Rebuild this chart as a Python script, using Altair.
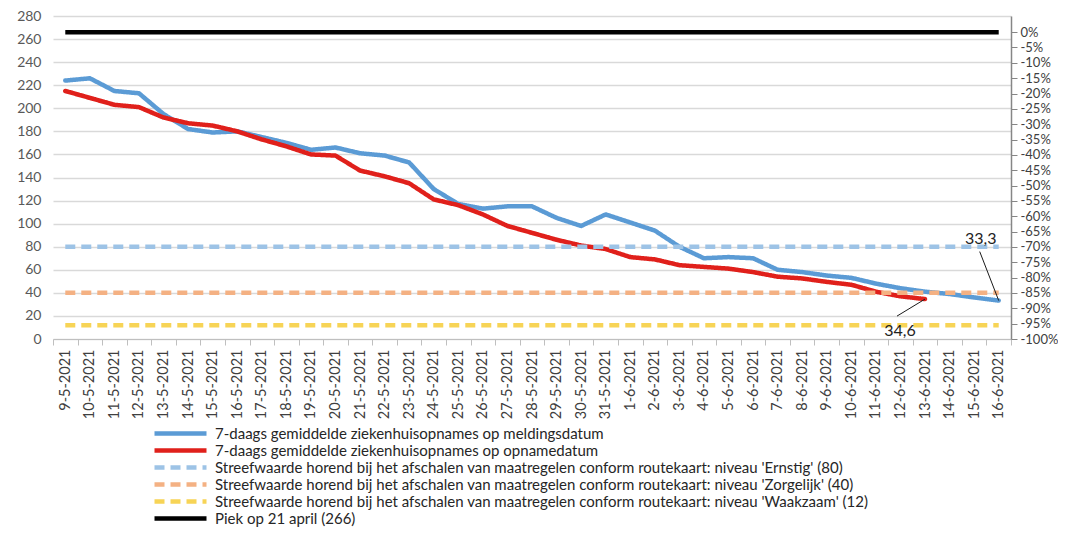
import json
import altair as alt
import pandas as pd

# ---------------- data ----------------
dates = ["9-5-2021", "10-5-2021", "11-5-2021", "12-5-2021", "13-5-2021", "14-5-2021",
         "15-5-2021", "16-5-2021", "17-5-2021", "18-5-2021", "19-5-2021", "20-5-2021",
         "21-5-2021", "22-5-2021", "23-5-2021", "24-5-2021", "25-5-2021", "26-5-2021",
         "27-5-2021", "28-5-2021", "29-5-2021", "30-5-2021", "31-5-2021", "1-6-2021",
         "2-6-2021", "3-6-2021", "4-6-2021", "5-6-2021", "6-6-2021", "7-6-2021",
         "8-6-2021", "9-6-2021", "10-6-2021", "11-6-2021", "12-6-2021", "13-6-2021",
         "14-6-2021", "15-6-2021", "16-6-2021"]

meldingsdatum = [224, 226, 215, 213, 195, 182, 179, 180, 175, 170, 164, 166, 161, 159,
                 153, 130, 117, 113, 115, 115, 105, 98, 108, 101, 94, 80, 70, 71, 70,
                 60, 58, 55, 53, 48, 44, 41, 39, 36, 33.3]

opnamedatum = [215, 209, 203, 201, 192, 187, 185, 180, 173, 167, 160, 159, 146, 141,
               135, 121, 116, 108, 98, 92, 86, 81, 78, 71, 69, 64, 62.5, 61, 58, 54,
               52.5, 49.5, 47, 41, 37, 34.6]

S_MELD = "7-daags gemiddelde ziekenhuisopnames op meldingsdatum"
S_OPN = "7-daags gemiddelde ziekenhuisopnames op opnamedatum"
S_ERN = "Streefwaarde horend bij het afschalen van maatregelen conform routekaart: niveau 'Ernstig' (80)"
S_ZOR = "Streefwaarde horend bij het afschalen van maatregelen conform routekaart: niveau 'Zorgelijk' (40)"
S_WAK = "Streefwaarde horend bij het afschalen van maatregelen conform routekaart: niveau 'Waakzaam' (12)"
S_PIEK = "Piek op 21 april (266)"

threshold_names = [S_ERN, S_ZOR, S_WAK, S_PIEK]
threshold_values = [80, 40, 12, 266]
peak_value = 266

series_order = [S_MELD, S_OPN, S_ERN, S_ZOR, S_WAK, S_PIEK]
series_colors = ["#5b9bd5", "#e0201b", "#9dc3e6", "#f4b183", "#f7d456", "#000000"]
series_dash = [[1, 0], [1, 0], [10, 6], [10, 6], [10, 6], [1, 0]]
series_width = [4.5, 4.5, 3.2, 3, 3.8, 3]

left_ticks = list(range(0, 281, 20))
right_ticks = [round(-1 + 0.05 * k, 2) for k in range(21)]

# ---------------- tables ----------------
rows = []
for i, v in enumerate(meldingsdatum):
    rows.append({"idx": i, "value": v, "series": S_MELD})
for i, v in enumerate(opnamedatum):
    rows.append({"idx": i, "value": v, "series": S_OPN})
lines_df = pd.DataFrame(rows)

trows = []
for name, val in zip(threshold_names, threshold_values):
    for i in range(len(dates)):
        trows.append({"idx": i, "value": val, "series": name})
thr_df = pd.DataFrame(trows)
peak_df = thr_df[thr_df["series"] == S_PIEK].copy()
peak_df["pct"] = peak_df["value"] / peak_value - 1

ann_meld = pd.DataFrame([{"idx": len(meldingsdatum) - 1, "value": meldingsdatum[-1],
                          "label": str(meldingsdatum[-1]).replace(".", ",")}])
ann_opn = pd.DataFrame([{"idx": len(opnamedatum) - 1, "value": opnamedatum[-1],
                         "label": str(opnamedatum[-1]).replace(".", ",")}])

# ---------------- chart ----------------
W = 958
H = 323
FONT = "Lato"
half = W / len(dates) / 2
x_values = [k - 0.5 for k in range(len(dates) + 1)]

x_axis = alt.Axis(
    values=x_values,
    tickCount=len(x_values) + 10,
    labelExpr=json.dumps(dates) + "[round(datum.value + 0.5)] || ''",
    labelOffset=half,
    labelAngle=-90,
    labelOverlap=False,
    labelFontSize=14.5,
    labelColor="#404040",
    labelPadding=4,
    grid=False,
    ticks=True,
    tickSize=6,
    tickColor="#bfbfbf",
    domain=True,
    domainColor="#bfbfbf",
    title=None,
)
x_enc = alt.X("idx:Q", scale=alt.Scale(domain=[-0.5, len(dates) - 0.5], nice=False, zero=False),
              axis=x_axis)

y_axis = alt.Axis(values=left_ticks, tickCount=len(left_ticks) + 10, labelOverlap=False,
                  grid=True, gridColor="#d9d9d9", gridWidth=1.5,
                  domain=False, ticks=False, labelFontSize=14, labelColor="#595959",
                  labelPadding=12, title=None)
y_enc = alt.Y("value:Q", scale=alt.Scale(domain=[0, 280], nice=False), axis=y_axis)

color_enc = alt.Color("series:N", scale=alt.Scale(domain=series_order, range=series_colors),
                      title=None)
dash_enc = alt.StrokeDash("series:N", scale=alt.Scale(domain=series_order, range=series_dash),
                          title=None)
width_enc = alt.StrokeWidth("series:N", scale=alt.Scale(domain=series_order, range=series_width),
                            title=None)

data_lines = alt.Chart(lines_df).mark_line(strokeCap="round", strokeJoin="round").encode(
    x=x_enc, y=y_enc, color=color_enc, strokeDash=dash_enc, strokeWidth=width_enc,
    detail="series:N",
)
thr_lines = alt.Chart(thr_df).mark_line(strokeCap="butt").encode(
    x=x_enc, y=y_enc, color=color_enc, strokeDash=dash_enc, strokeWidth=width_enc,
    detail="series:N",
)

ann1_rule = alt.Chart(ann_meld).mark_rule(color="#1a1a1a", strokeWidth=1,
                                          x2Offset=-19, y2Offset=-49).encode(
    x="idx:Q", y="value:Q", x2=alt.X2("idx:Q"), y2=alt.Y2("value:Q"))
ann1_text = alt.Chart(ann_meld).mark_text(dx=-18, dy=-62, fontSize=16, font=FONT,
                                          color="#222222").encode(
    x="idx:Q", y="value:Q", text="label:N")
ann2_rule = alt.Chart(ann_opn).mark_rule(color="#1a1a1a", strokeWidth=1,
                                         x2Offset=-28, y2Offset=17).encode(
    x="idx:Q", y="value:Q", x2=alt.X2("idx:Q"), y2=alt.Y2("value:Q"))
ann2_text = alt.Chart(ann_opn).mark_text(dx=-25, dy=32, fontSize=16, font=FONT,
                                         color="#222222").encode(
    x="idx:Q", y="value:Q", text="label:N")

left_layer = alt.layer(data_lines, thr_lines, ann1_rule, ann1_text, ann2_rule, ann2_text)

right_axis = alt.Axis(orient="right", values=right_ticks, tickCount=len(right_ticks) + 10,
                      labelExpr="round(datum.value * 100) + '%'",
                      grid=False, domain=True, domainColor="#868686", domainWidth=1.5,
                      ticks=True, tickColor="#868686", tickSize=6, labelFontSize=13,
                      labelColor="#404040", labelPadding=3, labelOverlap=False, title=None)
right_layer = alt.Chart(peak_df).mark_line(strokeOpacity=0).encode(
    x=x_enc,
    y=alt.Y("pct:Q", scale=alt.Scale(domain=[-1, 280 / peak_value - 1], nice=False, zero=False),
            axis=right_axis),
)

chart = alt.layer(left_layer, right_layer).resolve_scale(y="independent").properties(
    width=W, height=H, padding={"left": 8, "top": 1, "right": 0, "bottom": 0}
).configure(font=FONT).configure_view(strokeWidth=0).configure_legend(
    orient="none", legendX=120, legendY=410, symbolType="M-5.2,0H5.2", symbolSize=100,
    labelFontSize=15, labelColor="#262626", labelLimit=1000, padding=0, rowPadding=-2.9,
    labelOffset=27, titlePadding=0,
)

chart.save("out.html", embed_options={"renderer": "svg", "actions": False})
